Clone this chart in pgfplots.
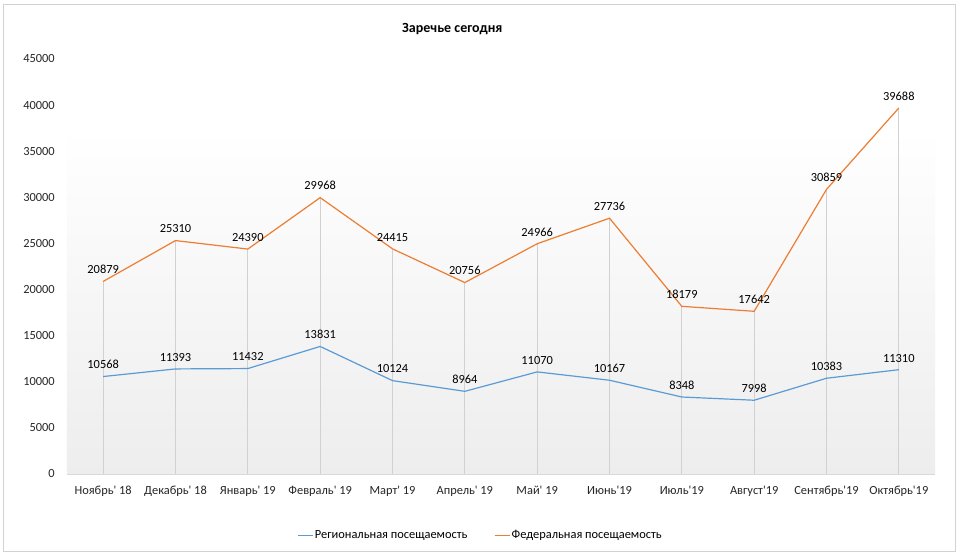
\documentclass[border=0pt]{standalone}
\usepackage{fontspec}
\setmainfont{Carlito}
\usepackage{pgfplots}
\pgfplotsset{compat=1.18}
\definecolor{reg}{HTML}{5B9BD5}
\definecolor{fed}{HTML}{ED7D31}
\begin{document}
\begin{tikzpicture}
\fill[white] (-50.25pt,-61.5pt) rectangle (670.5pt,355.5pt);
\path[use as bounding box] (-50.25pt,-61.5pt) rectangle (670.5pt,355.5pt);
\draw[gray!35, line width=0.6pt] (-48pt,-57.75pt) rectangle (666pt,352.5pt);
\begin{axis}[
  scale only axis,
  width=651pt, height=311.25pt,
  xmin=-0.5, xmax=11.5,
  ymin=0, ymax=45000,
  axis line style={draw=none},
  axis on top,
  clip=false,
  xtick={0,...,11},
  xticklabels={{Ноябрь\textquotesingle\ 18},{Декабрь\textquotesingle\ 18},{Январь\textquotesingle\ 19},{Февраль\textquotesingle\ 19},{Март\textquotesingle\ 19},{Апрель\textquotesingle\ 19},{Май\textquotesingle\ 19},{Июнь\textquotesingle 19},{Июль\textquotesingle 19},{Август\textquotesingle 19},{Сентябрь\textquotesingle 19},{Октябрь\textquotesingle 19}},
  ytick={0,5000,...,45000},
  scaled y ticks=false,
  /pgf/number format/1000 sep={},
  /pgf/number format/assume math mode=true,
  major tick length=0pt,
  tick style={draw=none},
  ticklabel style={font=\fontsize{9.3pt}{10pt}\selectfont, text=black!85},
  yticklabel style={anchor=east, inner sep=0pt, xshift=-9pt},
  xticklabel style={anchor=north, inner sep=0pt, yshift=-9pt},
  legend style={at={(0.476,-0.149)}, anchor=center, draw=none, fill=none,
    font=\fontsize{9.3pt}{10pt}\selectfont,
    /tikz/every even column/.append style={column sep=19pt},
    nodes={inner sep=1pt}},
  legend columns=2,
  legend image code/.code={\draw[#1, line width=1pt] (0pt,0pt) -- (11.25pt,0pt);},
]
\fill[top color=white, bottom color=black!7] (axis cs:-0.5,0) rectangle (axis cs:11.5,37500);
\draw[black!15, line width=0.6pt] (axis cs:-0.5,0) -- (axis cs:11.5,0);
\addplot[ycomb, black!18, line width=0.6pt, forget plot] coordinates {
(0,20879) (1,25310) (2,24390) (3,29968) (4,24415) (5,20756) (6,24966) (7,27736) (8,18179) (9,17642) (10,30859) (11,39688)};
\addplot[color=reg, line width=0.9pt, mark=none,
  nodes near coords, every node near coord/.append style={font=\fontsize{9.3pt}{10pt}\selectfont, text=black, anchor=south, inner sep=1pt, yshift=4.25pt}]
coordinates {
(0,10568) (1,11393) (2,11432) (3,13831) (4,10124) (5,8964) (6,11070) (7,10167) (8,8348) (9,7998) (10,10383) (11,11310)};
\addlegendentry{Региональная посещаемость}
\addplot[color=fed, line width=0.9pt, mark=none,
  nodes near coords, every node near coord/.append style={font=\fontsize{9.3pt}{10pt}\selectfont, text=black, anchor=south, inner sep=1pt, yshift=4.25pt}]
coordinates {
(0,20879) (1,25310) (2,24390) (3,29968) (4,24415) (5,20756) (6,24966) (7,27736) (8,18179) (9,17642) (10,30859) (11,39688)};
\addlegendentry{Федеральная посещаемость}
\end{axis}
\node[font=\fontsize{10.5pt}{12pt}\selectfont\bfseries] at (289pt,333.75pt) {Заречье сегодня};
\end{tikzpicture}
\end{document}
